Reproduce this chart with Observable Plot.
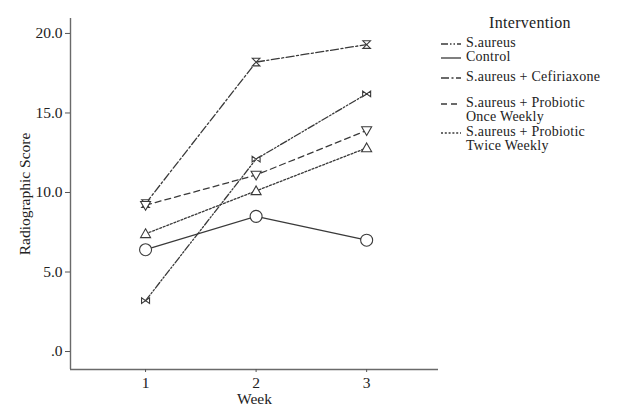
<!DOCTYPE html>
<html>
<head>
<meta charset="utf-8">
<script src="https://cdn.jsdelivr.net/npm/d3@7"></script>
<script src="https://cdn.jsdelivr.net/npm/@observablehq/plot@0.6"></script>
<style>
  body { margin: 0; background: #fff; }
  #wrap { position: relative; width: 624px; height: 408px; font-family: "Liberation Serif", serif; }
  #legend { position: absolute; left: 440px; top: 12px; width: 184px; font-size: 14px; color: #222; letter-spacing: 0.25px; }
  #legend .title { position: absolute; left: 20px; width: 140px; text-align: center; top: 3px; font-size: 16px; line-height: 16px; letter-spacing: 0.3px; }
  #legend .item { position: absolute; left: 0; display: flex; align-items: flex-start; }
  #legend .item svg { flex: none; margin-top: 6px; }
  #legend .item .txt { margin-left: 4px; }
  #legend .item .txt div { line-height: 14px; height: 14px; white-space: nowrap; }
</style>
</head>
<body>
<div id="wrap"><div id="chart"></div><div id="legend"></div></div>
<script>
const weeks = [1, 2, 3];
const seriesNames = ["S.aureus", "Control", "S.aureus + Cefiriaxone", "S.aureus + Probiotic\nOnce Weekly", "S.aureus + Probiotic\nTwice Weekly"];
const sAureus = [3.2, 12.1, 16.2];
const control = [6.4, 8.5, 7.0];
const cefiriaxone = [9.3, 18.2, 19.3];
const probioticOnce = [9.2, 11.1, 13.9];
const probioticTwice = [7.4, 10.1, 12.8];
const yTicks = [0, 5, 10, 15, 20];

const ink = "#3a3a3a";

const hourglass = { draw(ctx, size) { const r = Math.sqrt(size / Math.PI);
  ctx.moveTo(-r, -r); ctx.lineTo(r, -r); ctx.lineTo(-r, r); ctx.lineTo(r, r); ctx.closePath(); } };
const bowtie = { draw(ctx, size) { const r = Math.sqrt(size / Math.PI);
  ctx.moveTo(-r, -r * 0.7); ctx.lineTo(-r, r * 0.7); ctx.lineTo(r, -r * 0.7); ctx.lineTo(r, r * 0.7); ctx.closePath(); } };
const triUp = { draw(ctx, size) { const r = Math.sqrt(size / Math.PI);
  ctx.moveTo(0, -r); ctx.lineTo(r, r * 0.75); ctx.lineTo(-r, r * 0.75); ctx.closePath(); } };
const triDown = { draw(ctx, size) { const r = Math.sqrt(size / Math.PI);
  ctx.moveTo(0, r); ctx.lineTo(r, -r * 0.75); ctx.lineTo(-r, -r * 0.75); ctx.closePath(); } };
const circ = { draw(ctx, size) { const r = Math.sqrt(size / Math.PI);
  ctx.moveTo(r, 0); ctx.arc(0, 0, r, 0, 2 * Math.PI); } };

const series = [
  { name: seriesNames[0], values: sAureus, dash: "7,2,1.5,2,1.5,2", symbol: bowtie, r: 4 },
  { name: seriesNames[1], values: control, dash: null, symbol: circ, r: 6 },
  { name: seriesNames[2], values: cefiriaxone, dash: "8,2.5,2,2.5", symbol: hourglass, r: 3.8 },
  { name: seriesNames[3], values: probioticOnce, dash: "6,4", symbol: triDown, r: 5 },
  { name: seriesNames[4], values: probioticTwice, dash: "2,1.8", symbol: triUp, r: 5 }
];

const rows = s => weeks.map((w, i) => ({ week: w, score: s.values[i], name: s.name }));
const xDomain = [0.321, 3.65], yDomain = [-1.13, 20.94];

const marks = [];
for (const s of series) {
  marks.push(Plot.line(rows(s), { x: "week", y: "score", stroke: ink, strokeWidth: 1.3, strokeDasharray: s.dash || undefined }));
}
for (const s of series) {
  marks.push(Plot.dot(rows(s), { x: "week", y: "score", symbol: s.symbol, r: s.r, stroke: ink, strokeWidth: 1.1, fill: "white" }));
}

const chart = Plot.plot({
  width: 624, height: 408,
  marginLeft: 70, marginRight: 186, marginTop: 18, marginBottom: 39,
  style: { fontFamily: "Liberation Serif, serif", fontSize: "15px", color: "#222", background: "white" },
  x: { type: "linear", domain: xDomain },
  y: { domain: yDomain },
  marks: [
    Plot.ruleX([xDomain[0]], { stroke: "#6a6a6a", strokeWidth: 1.4 }),
    Plot.ruleY([yDomain[0]], { stroke: "#6a6a6a", strokeWidth: 1.4 }),
    Plot.axisY({ ticks: yTicks, tickFormat: d => d === 0 ? ".0" : d.toFixed(1), tickSize: 5, tickPadding: 3, stroke: "#555",
      label: "Radiographic Score", labelAnchor: "center", labelArrow: "none", labelOffset: 52, fontSize: 15.5 }),
    Plot.axisX({ ticks: weeks, tickFormat: d => String(d), tickSize: 3, tickPadding: 4, stroke: "#555",
      label: "Week", labelAnchor: "center", labelArrow: "none", labelOffset: 34, fontSize: 15.5 }),
    ...marks
  ]
});
document.getElementById("chart").appendChild(chart);

// legend
const legend = d3.select("#legend");
legend.append("div").attr("class", "title").text("Intervention");
const tops = [24, 38, 58, 84, 113];
series.forEach((s, i) => {
  const item = legend.append("div").attr("class", "item").style("top", tops[i] + "px");
  const svg = item.append("svg").attr("width", 22).attr("height", 4);
  svg.append("line").attr("x1", 1).attr("x2", 21).attr("y1", 2).attr("y2", 2)
    .attr("stroke", ink).attr("stroke-width", 1.3).attr("stroke-dasharray", s.dash);
  const txt = item.append("div").attr("class", "txt");
  s.name.split("\n").forEach(t => txt.append("div").text(t));
});
</script>
</body>
</html>
